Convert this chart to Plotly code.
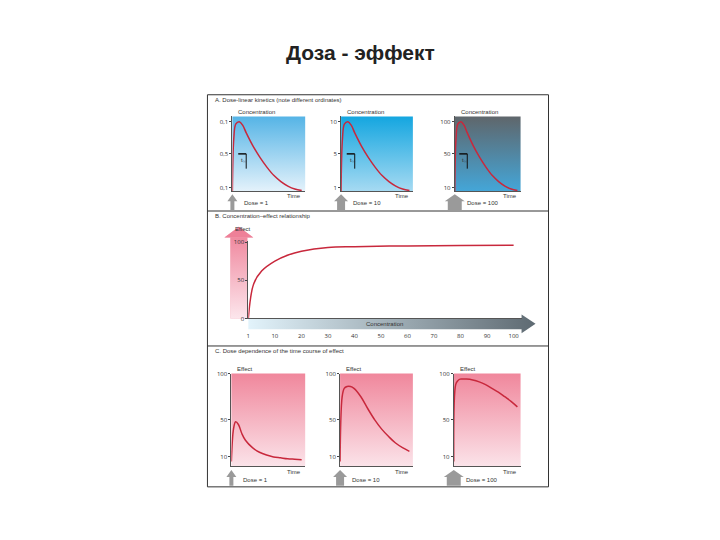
import plotly.graph_objects as go

# ---- data ----
time_pts = [0, 0.2, 0.5, 1, 1.5, 2, 3, 4, 5, 6, 7, 8, 9, 10]
conc_norm = [0, 0.70, 0.90, 0.93, 0.88, 0.78, 0.60, 0.45, 0.32, 0.21, 0.13, 0.07, 0.03, 0.01]
doses = [1, 10, 100]
a_ticks = [["0,1", "0,5", "0,1"], ["10", "5", "1"], ["100", "50", "10"]]
a_tickvals = [0.93, 0.5, 0.05]

conc_idx = [0, 0.2, 0.5, 1, 1.5, 2, 3, 4, 6, 8, 10]
effect_b = [0, 45, 62, 75, 83, 88, 93, 94, 95, 95.5, 96]
conc_ticklabels = ["1", "10", "20", "30", "40", "50", "60", "70", "80", "90", "100"]
effect_ticks = [0, 50, 100]

time_c = [0, 0.3, 0.6, 1, 1.5, 2, 3, 4, 5, 6, 7, 8, 9, 10]
effect_c = [
    [5, 40, 48, 45, 35, 28, 20, 15, 12, 10, 9, 8, 7.5, 7],
    [5, 75, 84, 86, 86, 84, 75, 62, 50, 40, 32, 25, 20, 16],
    [5, 88, 92, 94, 94, 94, 93, 91, 88, 84, 80, 75, 70, 64],
]
c_ticks = [10, 50, 100]

W, H = 720, 540
OX, OY = 9, 11  # page body offset compensation
fig = go.Figure()
RED = "#c8283c"

def grad_rect(x0, y0, x1, y1, ctop, cbot):
    fig.add_trace(go.Scatter(x=[x0, x1, x1, x0, x0], y=[y0, y0, y1, y1, y0], mode="lines",
                             line=dict(width=0), fill="toself",
                             fillgradient=dict(type="vertical", colorscale=[[0, cbot], [1, ctop]]),
                             xaxis="x", yaxis="y", hoverinfo="skip", showlegend=False))

def poly(xs, ys, color, ctop=None):
    kw = dict(fillcolor=color) if ctop is None else dict(
        fillgradient=dict(type="horizontal", colorscale=[[0, color], [1, ctop]]))
    fig.add_trace(go.Scatter(x=xs, y=ys, mode="lines", line=dict(width=0), fill="toself",
                             xaxis="x", yaxis="y", hoverinfo="skip", showlegend=False, **kw))

A_x = [(232, 305), (341, 413), (455, 521)]
A_y = (117, 193)
A_cols = [("#55b4e6", "#e4f2fb"), ("#14a6e0", "#a6daf2"), ("#5f666b", "#44a6d8")]
C_x = [(231, 305), (340, 413), (454, 521)]
C_y = (378, 472)

for (x0, x1), (ct, cb) in zip(A_x, A_cols):
    grad_rect(x0, A_y[0], x1, A_y[1], ct, cb)
for (x0, x1) in C_x:
    grad_rect(x0, C_y[0], x1, C_y[1], "#f0879c", "#fbe3e9")
# B decorations
poly([230, 230, 224, 238.5, 253, 247, 247, 230], [322, 240, 240, 229, 240, 240, 322, 322], "#f4b0bf")
grad_rect(230, 240, 247, 322, "#f08aa0", "#fce6ec")
poly([224, 238.5, 253, 224], [240, 229, 240, 240], "#ee8098")
poly([248, 522, 522, 536, 522, 522, 248], [322, 322, 318, 327.5, 337, 333, 333], "#e2f3fb", "#5e6a72")
# dose arrows
for (x0, x1), w in zip(A_x, [2, 4, 7]):
    poly([x0 - w, x0 + w, x0 + w, x0 + w + 3, x0, x0 - w - 3, x0 - w], [212, 212, 203, 203, 196, 203, 203], "#9a9a9a")
for (x0, x1), w in zip(C_x, [2, 4, 7]):
    poly([x0 - w, x0 + w, x0 + w, x0 + w + 3, x0, x0 - w - 3, x0 - w], [492, 492, 483, 483, 476, 483, 483], "#9a9a9a")

fig.update_layout(xaxis=dict(domain=[0, 1], range=[OX, W + OX], visible=False, fixedrange=True),
                  yaxis=dict(domain=[0, 1], range=[H + OY, OY], visible=False))

def px(v):
    return (v - OX) / W
def py(v):
    return 1 - (v - OY) / H

n = 2
def add_panel(xr, yr, xs, ys, xrange, yrange, tickvals, ticktext, xtv=None, xtt=None):
    global n
    xa, ya = f"x{n}", f"y{n}"
    fig.add_trace(go.Scatter(x=xs, y=ys, mode="lines", line=dict(color=RED, width=1.5, shape="spline"),
                             xaxis=xa, yaxis=ya, showlegend=False))
    fig.update_layout({
        f"xaxis{n}": dict(domain=[px(xr[0]), px(xr[1])], range=xrange, anchor=ya,
                          showgrid=False, zeroline=False, showline=True, linecolor="#555", linewidth=1,
                          ticks="", tickvals=xtv or [], ticktext=xtt, ticklabelstandoff=11,
                          tickfont=dict(size=6, color="#333")),
        f"yaxis{n}": dict(domain=[py(yr[1]), py(yr[0])], range=yrange, anchor=xa,
                          showgrid=False, zeroline=False, showline=True, linecolor="#555", linewidth=1,
                          ticks="outside", ticklen=2, tickvals=tickvals, ticktext=ticktext,
                          tickfont=dict(size=6, color="#333")),
    })
    n += 1

for i, (xr) in enumerate(A_x):
    add_panel(xr, A_y, time_pts, conc_norm, [0, 10.5], [0, 1.0], a_tickvals, a_ticks[i])
add_panel((248, 522), (243, 322), conc_idx, effect_b, [0, 10.3], [0, 102],
          effect_ticks, [str(v) for v in effect_ticks], list(range(11)), conc_ticklabels)
for i, xr in enumerate(C_x):
    add_panel(xr, C_y, time_c, effect_c[i], [0, 10.5], [0, 100], c_ticks, [str(v) for v in c_ticks])

shapes = [dict(type="rect", xref="paper", yref="paper", x0=px(207), x1=px(549), y0=py(493), y1=py(95),
               line=dict(color="#333", width=1))]
for yy in [213, 350]:
    shapes.append(dict(type="line", xref="paper", yref="paper", x0=px(207), x1=px(549),
                       y0=py(yy), y1=py(yy), line=dict(color="#333", width=1)))
for (x0, x1) in A_x:
    m = x0 + (x1 - x0) * 0.19
    shapes.append(dict(type="line", xref="paper", yref="paper", x0=px(m - 8), x1=px(m),
                       y0=py(155), y1=py(155), line=dict(color="#111", width=1.5)))
    shapes.append(dict(type="line", xref="paper", yref="paper", x0=px(m), x1=px(m),
                       y0=py(155), y1=py(170), line=dict(color="#111", width=1)))
fig.update_layout(shapes=shapes)

ann = [dict(text="<b>Доза - эффект</b>", x=360, y=52, font=dict(size=21, color="#222"))]
def t(text, x, y, size=6, anchor="left", color="#333"):
    ann.append(dict(text=text, x=x, y=y, font=dict(size=size, color=color), xanchor=anchor))
t("A. Dose-linear kinetics (note different ordinates)", 213, 100)
t("B. Concentration–effect relationship", 213, 218)
t("C. Dose dependence of the time course of effect", 213, 355)
for (x0, x1), d in zip(A_x, doses):
    t("Concentration", x0 + 4, 113)
    t("Time", x1 - 2, 198, anchor="right")
    t(f"Dose = {d}", x0 + 10, 205)
    t("t<sub>½</sub>", x0 + (x1 - x0) * 0.19 - 7, 162)
for (x0, x1), d in zip(C_x, doses):
    t("Effect", x0 + 4, 373)
    t("Time", x1 - 2, 478, anchor="right")
    t(f"Dose = {d}", x0 + 10, 486)
t("Effect", 233, 231)
t("Concentration", 385, 327.5, anchor="center")
for a in ann:
    a.update(xref="paper", yref="paper", showarrow=False, yanchor="middle",
             x=px(a["x"]), y=py(a["y"]))
    a.setdefault("xanchor", "center")
    a["font"]["family"] = "Liberation Sans, Arial"
fig.update_layout(annotations=ann, width=W, height=H, margin=dict(l=0, r=0, t=0, b=0),
                  plot_bgcolor="rgba(0,0,0,0)", paper_bgcolor="white")
fig.write_html("out.html")
